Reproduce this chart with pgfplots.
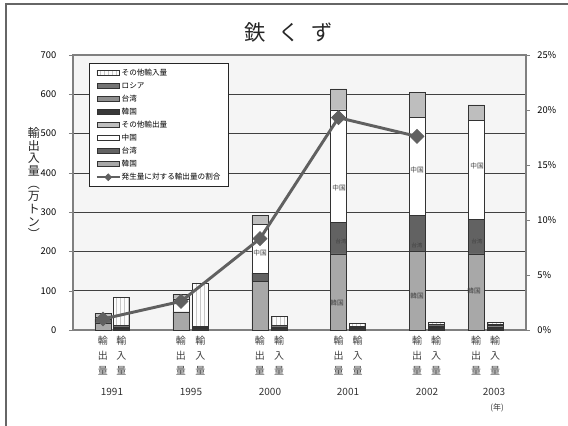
\documentclass[border=0pt]{standalone}
\usepackage{fontspec}
\setmainfont{Noto Sans CJK JP}
\usepackage{pgfplots}
\usepackage{pgfplotstable}
\pgfplotsset{compat=1.18}
\usetikzlibrary{patterns}

\definecolor{exkr}{HTML}{A8A8A8}
\definecolor{extw}{HTML}{626262}
\definecolor{excn}{HTML}{FFFFFF}
\definecolor{exot}{HTML}{BEBEBE}
\definecolor{imkr}{HTML}{383838}
\definecolor{imtw}{HTML}{8E8E8E}
\definecolor{imru}{HTML}{747474}
\definecolor{imot}{HTML}{FCFCFC}
\definecolor{ratio}{HTML}{606060}

% x positions are in pixels of the reference
\pgfplotstableread{
x     kr  tw  cn  ot
103   18  10  4   10
181   45  1   33  12
260   124 21  123 23
338.5 194 79  287 54
417   200 92  249 63
476   194 88  251 40
}\exports

\pgfplotstableread{
x     kr  tw  ru  ot
121.5 4   3   4   72
200.5 4   3   3   110
279   5   3   3   23
357.5 4   3   3   7
436   6   4   4   6
495   8   4   3   5
}\imports

\pgfplotstableread{
x     r
103   1.0
181   2.6
260   8.3
338.5 19.3
417   17.6
}\ratios

\pgfplotsset{
  /pgf/number format/assume math mode=true,
  frame/.style={scale only axis, width=339.75pt, height=206.25pt,
    xmin=73, xmax=526, ymin=0, ymax=700, xtick=\empty, clip=false,
    tick label style={font=\fontsize{7}{8}\selectfont}},
  legbar/.style={legend image code/.code={\draw[##1] (0pt,-1.9pt) rectangle (17pt,1.9pt);}},
  legline/.style={legend image code/.code={\draw[mark repeat=2,mark phase=2,##1,mark size=1.8pt,line width=1.5pt]
    plot coordinates {(0pt,0pt) (8.5pt,0pt) (17pt,0pt)};}},
}
\tikzset{
  lab/.style={align=center, font=\fontsize{7.5}{11.25}\selectfont, text=black!75},
  inlab/.style={font=\fontsize{5}{6}\selectfont, text=black!75},
}
\newcommand{\ex}[1]{\node[lab] at (axis cs:#1,-65) {輸\\出\\量};}
\newcommand{\im}[1]{\node[lab] at (axis cs:#1,-65) {輸\\入\\量};}
\newcommand{\yr}[2]{\node[font=\fontsize{7.5}{9}\selectfont, text=black!80] at (axis cs:#1,-158) {#2};}

\begin{document}
\begin{tikzpicture}
\begin{axis}[frame,
  axis background/.style={fill=black!4},
  ybar stacked, bar width=16,
  ytick={0,100,...,700}, ytick pos=left,
  ymajorgrids, grid style={black!75, line width=0.5pt},
  axis line style={black!50, line width=1pt},
  tick align=outside, major tick length=3pt,
  yticklabel style={xshift=-6pt}]
\addplot[draw=black!80, line width=0.4pt, fill=exkr] table[x=x,y=kr]{\exports};
\addplot[draw=black!80, line width=0.4pt, fill=extw] table[x=x,y=tw]{\exports};
\addplot[draw=black!80, line width=0.4pt, fill=excn] table[x=x,y=cn]{\exports};
\addplot[draw=black!80, line width=0.4pt, fill=exot] table[x=x,y=ot]{\exports};

\ex{103}\im{121.5}\ex{181}\im{200.5}\ex{260}\im{279}
\ex{338.5}\im{357.5}\ex{417}\im{436}\ex{476}\im{495}
\yr{112}{1991}\yr{191}{1995}\yr{270}{2000}\yr{348}{2001}\yr{427}{2002}\yr{494}{2003}
\node[font=\fontsize{6}{7}\selectfont, text=black!80] at (axis cs:497,-198.5) {(年)};

\node[align=center, font=\fontsize{9}{9.5}\selectfont, text=black!85]
  at (axis cs:34,374) {輸\\出\\入\\量\\︵\\万\\ト\\ン\\︶};
\node[font=\fontsize{16}{18}\selectfont, text=black!85] at (axis cs:289,758.5)
  {鉄\hspace{9pt}く\hspace{9pt}ず};

\draw[black!60, line width=1.2pt] (axis cs:6,-244.36) -- (axis cs:6,829.8) -- (axis cs:568,829.8);
\coordinate (bl) at (axis cs:0,-244.36);
\coordinate (tr) at (axis cs:568,840);
\end{axis}

\begin{axis}[frame, hide axis, ybar stacked, bar width=16]
\addplot[draw=black!80, line width=0.4pt, fill=imkr] table[x=x,y=kr]{\imports};
\addplot[draw=black!80, line width=0.4pt, fill=imtw] table[x=x,y=tw]{\imports};
\addplot[draw=black!80, line width=0.4pt, fill=imru] table[x=x,y=ru]{\imports};
\addplot[draw=black!80, line width=0.4pt, fill=imot,
  postaction={pattern=vertical lines, pattern color=black!22}] table[x=x,y=ot]{\imports};
\end{axis}

% labels inside the export bars, drawn above the bars
\begin{axis}[frame, hide axis]
\node[inlab] at (axis cs:260,195) {中国};
\node[inlab] at (axis cs:339,361) {中国};
\node[inlab, font=\fontsize{4}{5}\selectfont] at (axis cs:341,226) {台湾};
\node[inlab] at (axis cs:337,68) {韓国};
\node[inlab] at (axis cs:417,407) {中国};
\node[inlab, font=\fontsize{4}{5}\selectfont] at (axis cs:417,216) {台湾};
\node[inlab] at (axis cs:417,86) {韓国};
\node[inlab] at (axis cs:477,417) {中国};
\node[inlab, font=\fontsize{4}{5}\selectfont] at (axis cs:477,226) {台湾};
\node[inlab] at (axis cs:474,100) {韓国};
\end{axis}

\begin{axis}[frame, ymin=0, ymax=25,
  axis x line=none, axis y line*=right,
  axis line style={black!50, line width=1pt},
  tick align=outside, major tick length=3pt,
  ytick={0,5,...,25},
  yticklabel={\pgfmathprintnumber{\tick}\%},
  yticklabel style={xshift=2pt},
  legend style={at={(0.0353,0.971)}, anchor=north west, draw=black!85,
    fill=white, font=\fontsize{5.7}{6.6}\selectfont, row sep=2.6pt,
    nodes={inner sep=0.8pt, text height=4.6pt, text depth=1pt},
    inner xsep=5pt, inner ysep=3.5pt},
  legend cell align=left]
\addlegendimage{legbar, draw=black!80, fill=imot, postaction={pattern=vertical lines, pattern color=black!22}}
\addlegendentry{その他輸入量}
\addlegendimage{legbar, draw=black!80, fill=imru}
\addlegendentry{ロシア}
\addlegendimage{legbar, draw=black!80, fill=imtw}
\addlegendentry{台湾}
\addlegendimage{legbar, draw=black!80, fill=imkr}
\addlegendentry{韓国}
\addlegendimage{legbar, draw=black!80, fill=exot}
\addlegendentry{その他輸出量}
\addlegendimage{legbar, draw=black!80, fill=excn}
\addlegendentry{中国}
\addlegendimage{legbar, draw=black!80, fill=extw}
\addlegendentry{台湾}
\addlegendimage{legbar, draw=black!80, fill=exkr}
\addlegendentry{韓国}
\addplot[ratio, line width=2.2pt, mark=square*, mark size=3.7pt,
  mark options={rotate=45, fill=ratio, line width=0.5pt}, legline]
  table[x=x,y=r]{\ratios};
\addlegendentry{発生量に対する輸出量の割合}
\end{axis}
\pgfresetboundingbox
\useasboundingbox (bl) rectangle (tr);
\end{tikzpicture}
\end{document}
